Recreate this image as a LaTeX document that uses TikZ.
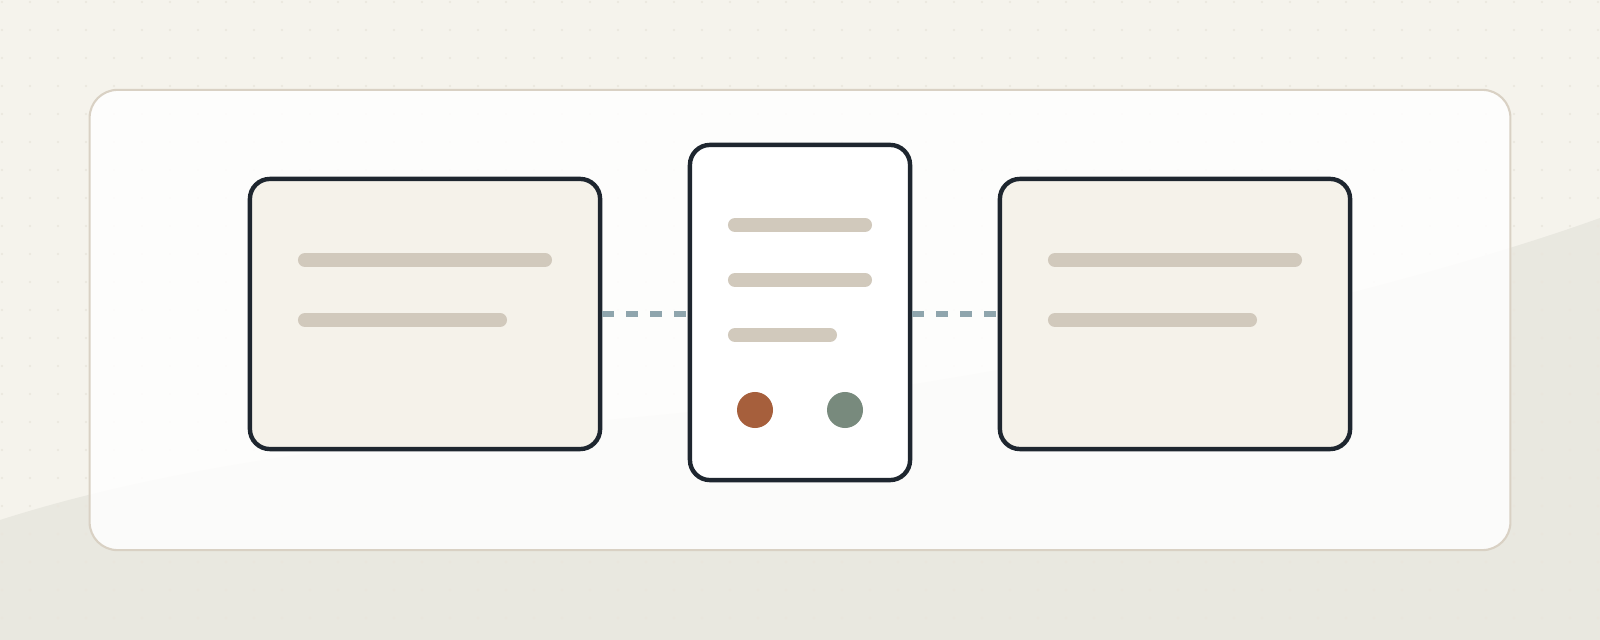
\documentclass[tikz,border=0pt]{standalone}
\usetikzlibrary{positioning}
\definecolor{bgc}{HTML}{F5F3EC}
\definecolor{wavec}{HTML}{E9E8E0}
\definecolor{dotc}{HTML}{EAE6DC}
\definecolor{panelrim}{HTML}{D9D1C4}
\definecolor{ink}{HTML}{1E262F}
\definecolor{cardfill}{HTML}{F5F2EA}
\definecolor{barc}{HTML}{D1C9BC}
\definecolor{linkc}{HTML}{8FA5AD}
\definecolor{rust}{HTML}{A65F3C}
\definecolor{sage}{HTML}{788A7D}
\tikzset{
  panelbox/.style={draw=panelrim, line width=0.6pt, fill=white, fill opacity=0.85,
    rounded corners=0.28cm, minimum width=14.2cm, minimum height=4.6cm},
  card/.style={draw=ink, line width=1.25pt, fill=cardfill, rounded corners=0.2cm,
    minimum width=3.5cm, minimum height=2.7cm},
  hub/.style={card, fill=white, minimum width=2.2cm, minimum height=3.35cm},
  bar/.style={barc, line width=4pt, line cap=round},
  link/.style={linkc, line width=1.7pt, dash pattern=on 3.4pt off 3.4pt},
  knob/.style={circle, minimum size=0.36cm, inner sep=0pt}
}
\begin{document}
\begin{tikzpicture}[x=0.01cm, y=-0.01cm]
  \useasboundingbox (0,0) rectangle (1600,640);
  \fill[bgc] (0,0) rectangle (1600,640);
  % backdrop wave
  \fill[wavec] (0,520) .. controls (250,440) and (550,430) .. (800,400)
    .. controls (1050,370) and (1400,290) .. (1600,218) -- (1600,640) -- (0,640) -- cycle;
  \foreach \i in {0,...,57}
    \foreach \j in {0,...,22}
      \fill[dotc] (2+28*\i, 2+28*\j) circle (0.011cm);
  \node[panelbox] (panel) at (800,320) {};
  % the three cards
  \node[card] (left) at (425,314) {};
  \node[hub] (mid) at (800,312.5) {};
  \node[card] (right) at (1175,314) {};
  \draw[link] (left.east) -- (left.east -| mid.west);
  \draw[link] (right.west -| mid.east) -- (right.west);
  % text bars
  \draw[bar] (305,260) -- (545,260);
  \draw[bar] (305,320) -- (500,320);
  \draw[bar] (735,225) -- (865,225);
  \draw[bar] (735,280) -- (865,280);
  \draw[bar] (735,335) -- (830,335);
  \draw[bar] (1055,260) -- (1295,260);
  \draw[bar] (1055,320) -- (1250,320);
  \node[knob, fill=rust] (stop) at (755,410) {};
  \node[knob, fill=sage] (go) at (845,410) {};
\end{tikzpicture}
\end{document}
